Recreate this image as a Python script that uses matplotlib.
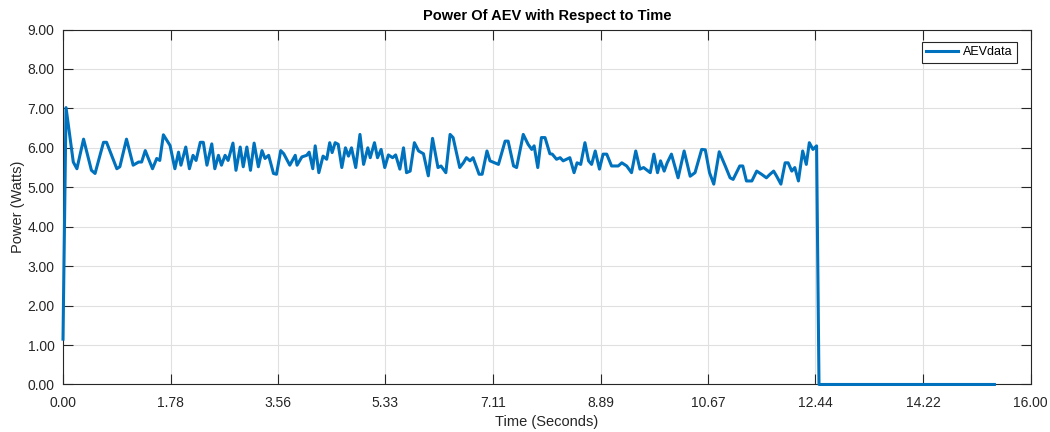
import matplotlib
matplotlib.use("Agg")
import matplotlib.pyplot as plt

# time (s) and power (W)
time_s = [0.00, 0.05, 0.17, 0.23, 0.34, 0.47, 0.53, 0.67, 0.72, 0.89,
          0.94, 1.05, 1.16, 1.25, 1.30, 1.36, 1.48, 1.55, 1.60, 1.66,
          1.77, 1.85, 1.91, 1.95, 2.03, 2.09, 2.15, 2.20, 2.27, 2.32,
          2.38, 2.46, 2.51, 2.57, 2.62, 2.68, 2.73, 2.81, 2.86, 2.93,
          2.98, 3.04, 3.10, 3.16, 3.23, 3.29, 3.34, 3.40, 3.48, 3.53,
          3.60, 3.65, 3.75, 3.84, 3.87, 3.95, 4.03, 4.07, 4.13,
          4.17, 4.23, 4.30, 4.36, 4.41, 4.45, 4.50, 4.55, 4.61, 4.67,
          4.72, 4.77, 4.84, 4.91, 4.97, 5.04, 5.08, 5.15, 5.20, 5.26,
          5.32, 5.38, 5.45, 5.50, 5.57, 5.63, 5.68, 5.74, 5.81, 5.88,
          5.96, 6.04, 6.11, 6.20, 6.25, 6.33, 6.40, 6.45, 6.56, 6.62,
          6.67, 6.73, 6.78, 6.88, 6.93, 7.01, 7.06, 7.14, 7.20, 7.31,
          7.36, 7.45, 7.50, 7.61, 7.69, 7.75, 7.79, 7.85, 7.91, 7.97,
          8.05, 8.09, 8.16, 8.22, 8.27,
          8.38, 8.45, 8.50, 8.56, 8.63, 8.69, 8.74, 8.80, 8.87, 8.93,
          8.99, 9.07, 9.18, 9.24, 9.32, 9.40, 9.47, 9.54, 9.60, 9.71,
          9.77, 9.83, 9.88, 9.94, 9.99, 10.06, 10.17, 10.27, 10.37, 10.45,
          10.56, 10.62, 10.69, 10.76, 10.85, 10.95, 11.03, 11.08, 11.19, 11.24,
          11.30, 11.39, 11.47, 11.55, 11.63, 11.69, 11.75, 11.80, 11.87, 11.94,
          11.99, 12.05, 12.10, 12.16, 12.23, 12.29, 12.34, 12.40, 12.46, 12.50,
          15.40]

power_w = [1.15, 7.02, 5.64, 5.47, 6.22, 5.43, 5.35, 6.14, 6.14, 5.47,
           5.52, 6.22, 5.56, 5.64, 5.64, 5.93, 5.47, 5.73, 5.68, 6.33,
           6.06, 5.47, 5.89, 5.56, 6.02, 5.47, 5.81, 5.68, 6.14, 6.14,
           5.56, 6.10, 5.47, 5.81, 5.56, 5.81, 5.68, 6.12, 5.43, 6.02,
           5.52, 6.02, 5.43, 6.12, 5.52, 5.93, 5.73, 5.81, 5.35, 5.33,
           5.93, 5.85, 5.56, 5.81, 5.56, 5.77, 5.81, 5.89, 5.47,
           6.05, 5.37, 5.79, 5.71, 6.13, 5.88, 6.13, 6.09, 5.50, 6.00,
           5.79, 6.00, 5.50, 6.34, 5.58, 6.00, 5.75, 6.13, 5.75, 5.96,
           5.50, 5.82, 5.75, 5.82, 5.46, 6.00, 5.37, 5.41, 6.13, 5.92,
           5.85, 5.29, 6.24, 5.50, 5.54, 5.37, 6.34, 6.26, 5.50, 5.62,
           5.75, 5.67, 5.75, 5.33, 5.33, 5.92, 5.67, 5.62, 5.58, 6.17,
           6.17, 5.54, 5.50, 6.34, 6.09, 5.96, 6.05, 5.50, 6.26, 6.26,
           5.85, 5.84, 5.71, 5.75, 5.67,
           5.75, 5.37, 5.62, 5.58, 6.13, 5.67, 5.58, 5.92, 5.46, 5.84,
           5.84, 5.54, 5.54, 5.62, 5.54, 5.37, 5.92, 5.46, 5.50, 5.37,
           5.84, 5.37, 5.67, 5.41, 5.62, 5.84, 5.24, 5.92, 5.28, 5.37,
           5.96, 5.95, 5.37, 5.08, 5.90, 5.54, 5.24, 5.20, 5.54, 5.54,
           5.16, 5.16, 5.41, 5.33, 5.24, 5.33, 5.41, 5.28, 5.08, 5.62,
           5.62, 5.41, 5.50, 5.16, 5.92, 5.58, 6.13, 5.96, 6.05, 0.00,
           0.00]

x_ticks = [0.00, 1.78, 3.56, 5.33, 7.11, 8.89, 10.67, 12.44, 14.22, 16.00]
y_ticks = [0, 1, 2, 3, 4, 5, 6, 7, 8, 9]

plt.rcParams['font.family'] = ['Liberation Sans', 'DejaVu Sans']
dark = '#262626'

fig = plt.figure(figsize=(10.5, 4.32), dpi=100)
ax = fig.add_axes([0.060, 0.110, 0.9216, 0.8217])

ax.plot(time_s, power_w, color='#0072BD', lw=2.2, label='AEVdata', clip_on=False, zorder=3)

ax.set_xlim(0, 16)
ax.set_ylim(0, 9)
ax.set_xticks(x_ticks)
ax.set_xticklabels(['%.2f' % v for v in x_ticks])
ax.set_yticks(y_ticks)
ax.set_yticklabels(['%.2f' % v for v in y_ticks])
ax.tick_params(direction='in', length=7, width=0.8, colors=dark, labelsize=10,
               top=True, right=True, labelcolor=dark)
ax.tick_params(axis='x', pad=8)
ax.tick_params(axis='y', pad=6)
ax.grid(True, color='#e0e0e0', lw=0.8)
ax.set_axisbelow(True)
for s in ax.spines.values():
    s.set_color(dark)
    s.set_linewidth(0.8)

ax.set_title('Power Of AEV with Respect to Time', fontsize=10.5, fontweight='bold', color='black', pad=7)
ax.set_xlabel('Time (Seconds)', fontsize=10.5, color=dark, labelpad=4)
ax.set_ylabel('Power (Watts)', fontsize=10.5, color=dark, labelpad=2)

leg = ax.legend(loc='upper right', bbox_to_anchor=(1 - 14 / 968, 1 - 12.5 / 355),
                borderaxespad=0, fontsize=9, handlelength=2.5, handletextpad=0.4,
                borderpad=0.35, fancybox=False, framealpha=1)
leg.get_frame().set_edgecolor(dark)
leg.get_frame().set_linewidth(0.8)

fig.savefig('out.png', dpi=100)
